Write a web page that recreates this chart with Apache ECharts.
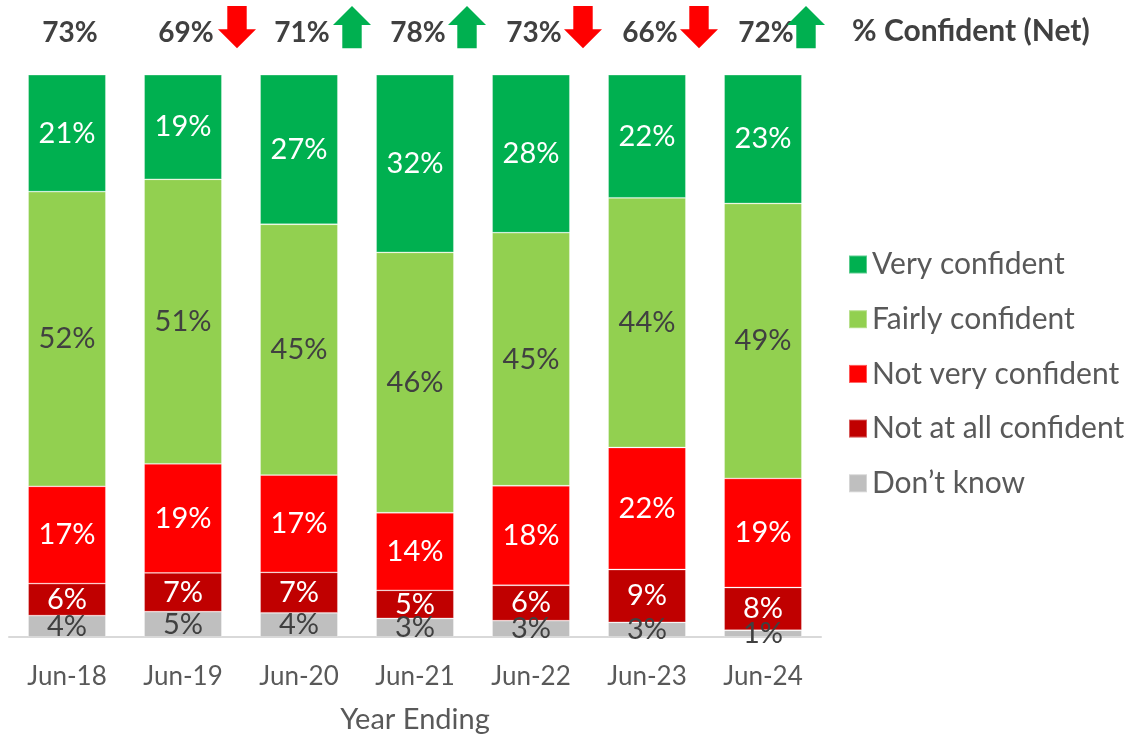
<!DOCTYPE html>
<html><head><meta charset="utf-8">
<script src="https://cdn.jsdelivr.net/npm/echarts@6/dist/echarts.min.js"></script>
<style>html,body{margin:0;padding:0;background:#fff}#c{width:1127px;height:737px}</style>
</head><body><div id="c"></div>
<script>
const categories = ['Jun-18','Jun-19','Jun-20','Jun-21','Jun-22','Jun-23','Jun-24'];
const veryConfident     = [20.8, 18.6, 26.6, 31.6, 28.1, 21.9, 22.9];
const fairlyConfident   = [52.4, 50.6, 44.6, 46.3, 45.0, 44.4, 48.9];
const notVeryConfident  = [17.3, 19.4, 17.3, 13.8, 17.7, 21.7, 19.4];
const notAtAllConfident = [5.7, 6.9, 7.2, 5.0, 6.3, 9.4, 7.6];
const dontKnow          = [3.8, 4.5, 4.3, 3.3, 2.9, 2.6, 1.2];
const netConfident = [73, 69, 71, 78, 73, 66, 72];
const netTrend = ['none', 'down', 'up', 'up', 'down', 'down', 'up'];

const FONT = 'Lato';
const arrowDx = [0, 54, 53, 52, 52, 52, 43];
const chart = echarts.init(document.getElementById('c'));

function barSeries(name, data, color, labelColor) {
  return {
    name: name, type: 'bar', stack: 'total', data: data,
    barCategoryGap: '33%',
    itemStyle: { color: color, borderColor: 'rgba(255,255,255,0.35)', borderWidth: 0.8 },
    label: {
      show: true, position: 'inside', color: labelColor,
      fontFamily: FONT, fontSize: 29,
      formatter: p => Math.round(p.value) + '%'
    },
    emphasis: { disabled: true }
  };
}

const option = {
  animation: false,
  textStyle: { fontFamily: FONT },
  grid: { left: 9, right: 306, top: 74.7, bottom: 100, containLabel: false, outerBoundsMode: 'none' },
  legend: {
    orient: 'vertical', left: 848, top: 249.5, padding: 0,
    data: ['Very confident', 'Fairly confident', 'Not very confident', 'Not at all confident', 'Don’t know'],
    icon: 'rect', itemWidth: 18, itemHeight: 18, itemGap: 24.7,
    textStyle: { fontFamily: FONT, fontSize: 30, color: '#595959', lineHeight: 30, padding: [0, 0, 0, 0] },
    selectedMode: false
  },
  graphic: [{
    type: 'text', left: 852, top: 16,
    style: { text: '% Confident (Net)', font: 'bold 30px ' + FONT, fill: '#404040' }
  }],
  xAxis: {
    type: 'category', data: categories,
    axisLine: { lineStyle: { color: '#d9d9d9', width: 2 } },
    axisTick: { show: false },
    axisLabel: { fontFamily: FONT, fontSize: 26, color: '#595959', margin: 27 },
    name: 'Year Ending', nameLocation: 'middle', nameGap: 68,
    nameTextStyle: { fontFamily: FONT, fontSize: 29, color: '#595959' }
  },
  yAxis: { type: 'value', min: 0, max: 100, show: false, splitLine: { show: false } },
  series: [
    barSeries('Don’t know', dontKnow, '#BFBFBF', '#404040'),
    barSeries('Not at all confident', notAtAllConfident, '#C00000', '#ffffff'),
    barSeries('Not very confident', notVeryConfident, '#FF0000', '#ffffff'),
    barSeries('Fairly confident', fairlyConfident, '#92D050', '#404040'),
    barSeries('Very confident', veryConfident, '#00B050', '#ffffff'),
    {
      type: 'custom', name: 'net', silent: true, clip: false,
      data: categories.map((c, i) => [i, 100]),
      renderItem: function (params, api) {
        const i = api.value(0);
        const p = api.coord([i, 100]);
        const children = [{
          type: 'text',
          style: {
            text: netConfident[i] + '%', x: p[0] + 3, y: p[1] - 42,
            align: 'center', verticalAlign: 'middle',
            font: 'bold 28px ' + FONT, fill: '#404040'
          }
        }];
        const t = netTrend[i];
        if (t !== 'none') {
          const cx = p[0] + arrowDx[i];
          const top = p[1] - 68.7, bot = p[1] - 26.4;
          let pts;
          if (t === 'up') {
            const hb = p[1] - 49.7;
            pts = [[cx, top], [cx + 19, hb], [cx + 9.7, hb], [cx + 9.7, bot], [cx - 9.7, bot], [cx - 9.7, hb], [cx - 19, hb]];
          } else {
            const hb = p[1] - 45.4;
            pts = [[cx - 9.7, top], [cx + 9.7, top], [cx + 9.7, hb], [cx + 19, hb], [cx, bot], [cx - 19, hb], [cx - 9.7, hb]];
          }
          children.push({
            type: 'polygon', shape: { points: pts },
            style: { fill: t === 'up' ? '#00B050' : '#FF0000' }
          });
        }
        return { type: 'group', children: children };
      }
    }
  ]
};
chart.setOption(option);
</script>
</body></html>
